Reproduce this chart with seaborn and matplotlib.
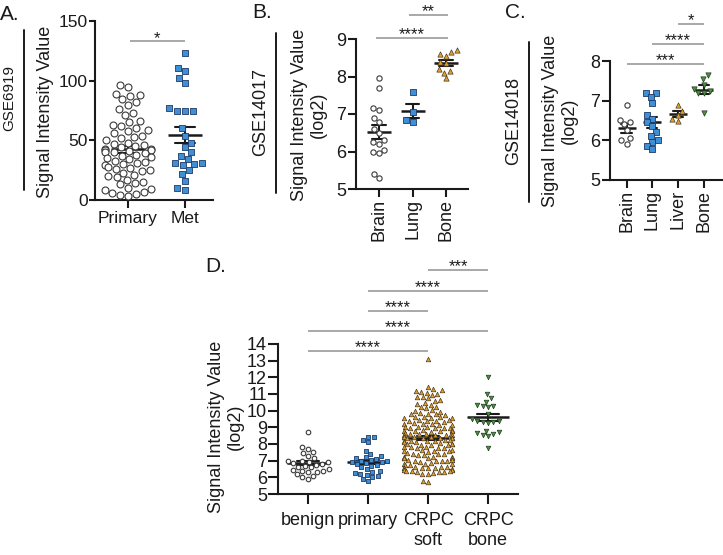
import numpy as np
import pandas as pd
import matplotlib
matplotlib.use("Agg")
import matplotlib.pyplot as plt
import seaborn as sns
from matplotlib.lines import Line2D

# ---------------- data ----------------
a_cats = ["Primary", "Met"]
a_primary = [96, 95, 89, 88, 87, 85, 82, 80, 76, 73, 71, 66, 65, 63, 62, 60, 59, 58, 56, 54,
             53, 52, 50, 48, 47, 46, 45, 44, 43, 43, 42, 42, 41, 40, 40, 39, 38, 37, 36, 35,
             34, 33, 32, 31, 30, 29, 28, 27, 26, 25, 24, 23, 21, 20, 19, 17, 15, 14, 13, 10,
             9, 8, 7, 6, 5, 4, 3]
a_met = [123, 111, 108, 102, 98, 77, 75, 75, 75, 60, 54, 48, 44, 40, 37, 34, 31, 31, 30, 29,
         25, 22, 16, 10, 8]

b_cats = ["Brain", "Lung", "Bone"]
b_brain = [7.95, 7.7, 7.15, 7.1, 6.9, 6.8, 6.6, 6.5, 6.3, 6.25, 6.2, 6.05, 6.0, 5.95, 5.4, 5.3]
b_lung = [7.6, 7.05, 6.85, 6.8]
b_bone = [8.7, 8.65, 8.6, 8.55, 8.4, 8.35, 8.2, 8.15, 8.1, 7.95]

c_cats = ["Brain", "Lung", "Liver", "Bone"]
c_brain = [6.88, 6.52, 6.45, 6.4, 6.25, 6.05, 6.0, 5.92]
c_lung = [7.2, 7.2, 7.1, 6.95, 6.65, 6.55, 6.45, 6.35, 6.2, 6.1, 6.0, 5.95, 5.85, 5.78]
c_liver = [6.9, 6.75, 6.65, 6.55, 6.5]
c_bone = [7.65, 7.55, 7.4, 7.3, 7.25, 7.2, 7.2, 6.7]

d_cats = ["benign", "primary", "CRPC\nsoft", "CRPC\nbone"]
d_benign = [8.75, 7.8, 7.7, 7.5, 7.45, 7.3, 7.15, 7.0, 7.0, 6.95, 6.9, 6.85, 6.8, 6.75, 6.7,
            6.65, 6.6, 6.5, 6.45, 6.4, 6.4, 6.35, 6.3, 6.2, 6.1, 6.0, 5.9]
d_primary = [8.45, 8.45, 8.25, 8.1, 7.6, 7.4, 7.3, 7.2, 7.15, 7.1, 7.05, 7.0, 7.0, 6.95, 6.9,
             6.85, 6.8, 6.75, 6.7, 6.6, 6.5, 6.4, 6.35, 6.25, 6.2, 6.15, 6.1, 6.0, 5.9, 5.8]
d_soft = [13.1,
          11.45, 11.28, 11.22, 11.18, 11.12, 11.08, 11.02, 10.97,
          10.85, 10.8, 10.75, 10.62, 10.58,
          10.45, 10.4, 10.36, 10.24, 10.2, 10.15, 10.05, 10.0, 9.95,
          9.85, 9.82, 9.8, 9.78, 9.75,
          9.65, 9.62, 9.6, 9.58, 9.56, 9.55,
          9.45, 9.42, 9.4, 9.38, 9.36, 9.35,
          9.25, 9.22, 9.2, 9.18, 9.16, 9.15,
          9.05, 9.03, 9.0, 8.98, 8.97, 8.96, 8.95,
          8.85, 8.83, 8.8, 8.78, 8.77, 8.76, 8.75,
          8.65, 8.63, 8.62, 8.6, 8.58, 8.57, 8.56, 8.55, 8.54,
          8.45, 8.43, 8.42, 8.4, 8.38, 8.37, 8.36, 8.35, 8.34,
          8.25, 8.23, 8.2, 8.18, 8.17, 8.16, 8.15, 8.14,
          8.05, 8.03, 8.0, 7.98, 7.97, 7.96, 7.95,
          7.85, 7.82, 7.8, 7.78, 7.76, 7.75,
          7.65, 7.62, 7.6, 7.58, 7.56, 7.55,
          7.45, 7.42, 7.4, 7.38, 7.36, 7.35,
          7.25, 7.22, 7.2, 7.18, 7.17, 7.16, 7.15,
          7.05, 7.03, 7.0, 6.98, 6.97, 6.96, 6.95,
          6.85, 6.82, 6.8, 6.78, 6.76, 6.75,
          6.65, 6.63, 6.6, 6.58, 6.57, 6.56, 6.55, 6.54,
          6.48, 6.45, 6.42, 6.4, 6.38, 6.36, 6.35, 6.34,
          6.3, 6.25, 6.22, 6.2,
          5.78, 5.72]
d_bone = [12.05, 11.0, 10.75, 10.55, 10.3, 10.25, 10.35, 10.3, 9.8, 9.5, 9.4, 9.4, 9.35, 9.3,
          9.25, 8.8, 8.7, 8.65, 8.6, 8.55, 8.5, 7.75]

# ---------------- style ----------------
sns.set_style("ticks")
plt.rcParams["font.family"] = ["Liberation Sans", "DejaVu Sans"]
INK = "#1a1a1a"
plt.rcParams["text.color"] = INK
plt.rcParams["axes.edgecolor"] = INK
plt.rcParams["xtick.color"] = INK
plt.rcParams["ytick.color"] = INK

OPEN = dict(marker="o", face="white", edge="#3a3a3a", lw=0.8)
BLUE = dict(marker="s", face="#3f8fd6", edge="#1d3a66", lw=0.6)
ORANGE = dict(marker="^", face="#e0a030", edge="#4a3a20", lw=0.5)
GREEN = dict(marker="v", face="#4e8f3e", edge="#1f3a1f", lw=0.5)

W, H = 723, 555
fig = plt.figure(figsize=(W / 100, H / 100), dpi=100)
fig.patch.set_facecolor("white")


def add_ax(l, r, t, b):
    return fig.add_axes([l / W, 1 - b / H, (r - l) / W, (b - t) / H])


def panel(ax, cats, groups, styles, size, mean_ms, cap):
    df = pd.DataFrame({
        "group": np.repeat(cats, [len(g) for g in groups]),
        "value": np.concatenate([np.asarray(g, float) for g in groups]),
    })
    for cat, st in zip(cats, styles):
        sub = df[df["group"] == cat]
        sns.swarmplot(data=sub, x="group", y="value", order=cats, ax=ax,
                      marker=st["marker"], color=st["face"], edgecolor=st["edge"],
                      linewidth=st["lw"], size=size, warn_thresh=1.0)
    sns.pointplot(data=df, x="group", y="value", order=cats, ax=ax,
                  errorbar="se", capsize=cap, linestyle="none", marker="_",
                  markersize=mean_ms, markeredgewidth=1.8, color=INK,
                  err_kws={"linewidth": 1.5})
    ax.set_xlabel("")
    ax.set_ylabel("")
    sns.despine(ax=ax)
    for s in ("left", "bottom"):
        ax.spines[s].set_linewidth(1.5)
    ax.tick_params(axis="both", width=1.5, colors=INK)


def sig(ax, x0, x1, y, txt):
    ax.plot([x0, x1], [y, y], color="#a8a8a8", lw=1.4, clip_on=False,
            solid_capstyle="butt")
    ax.annotate(txt, xy=((x0 + x1) / 2, y), xytext=(0, -1), textcoords="offset points",
                ha="center", va="baseline", fontsize=12, annotation_clip=False)


def vline(x, y0, y1):
    fig.add_artist(Line2D([x / W, x / W], [1 - y0 / H, 1 - y1 / H], color=INK, lw=1.4))


def ftext(x, y, s, size, **kw):
    fig.text(x / W, 1 - y / H, s, fontsize=size, **kw)


# ---------------- panel A ----------------
axA = add_ax(95, 213, 21, 200)
panel(axA, a_cats, [a_primary, a_met], [OPEN, BLUE], 5.0, 25, 0.35)
axA.set_xlim(-0.579, 1.49)
axA.set_ylim(0, 150)
axA.set_yticks([0, 50, 100, 150])
axA.tick_params(axis="y", length=4, pad=1, labelsize=12.5)
axA.tick_params(axis="x", length=6, pad=2, labelsize=12.5)
sig(axA, 0.03, 1.0, 133, "*")

# ---------------- panel B ----------------
axB = add_ax(356, 468, 39, 189)
panel(axB, b_cats, [b_brain, b_lung, b_bone], [OPEN, BLUE, ORANGE], 3.8, 17, 0.39)
axB.set_xlim(-0.687, 2.657)
axB.set_ylim(5, 9)
axB.set_yticks([5, 6, 7, 8, 9])
axB.tick_params(axis="y", length=6, pad=1, labelsize=13)
axB.tick_params(axis="x", length=6, pad=1, labelsize=13, labelrotation=90)
sig(axB, -0.1, 2.05, 9.03, "****")
sig(axB, 0.9, 2.05, 9.64, "**")

# ---------------- panel C ----------------
axC = add_ax(610, 722, 61, 180)
panel(axC, c_cats, [c_brain, c_lung, c_liver, c_bone], [OPEN, BLUE, ORANGE, GREEN],
      3.8, 13, 0.39)
axC.set_xlim(-0.64, 3.70)
axC.set_ylim(5, 8)
axC.set_yticks([5, 6, 7, 8])
axC.tick_params(axis="y", length=6, pad=1, labelsize=13)
axC.tick_params(axis="x", length=6, pad=1, labelsize=13, labelrotation=90)
sig(axC, 0.0, 3.0, 7.92, "***")
sig(axC, 1.0, 3.0, 8.43, "****")
sig(axC, 2.0, 3.0, 8.93, "*")

# ---------------- panel D ----------------
axD = add_ax(278, 518, 344, 494)
panel(axD, d_cats, [d_benign, d_primary, d_soft, d_bone], [OPEN, BLUE, ORANGE, GREEN],
      3.3, 30, 0.37)
axD.set_xlim(-0.5, 3.5)
axD.set_ylim(5, 14)
axD.set_yticks(range(5, 15))
axD.tick_params(axis="y", length=7, pad=1, labelsize=13)
axD.tick_params(axis="x", length=7, pad=6, labelsize=13)
sig(axD, 0.0, 2.0, 13.58, "****")
sig(axD, 0.0, 3.0, 14.78, "****")
sig(axD, 1.0, 2.0, 15.98, "****")
sig(axD, 1.0, 3.0, 17.18, "****")
sig(axD, 2.0, 3.0, 18.44, "***")

# ---------------- labels ----------------
ylab = "Signal Intensity Value"
ylab2 = "Signal Intensity Value\n(log2)"
ftext(0, 14, "A.", 15, ha="left", va="center")
ftext(252, 12, "B.", 15, ha="left", va="center")
ftext(505, 12, "C.", 15, ha="left", va="center")
ftext(205, 267, "D.", 15, ha="left", va="center")

ftext(9, 98, "GSE6919", 11, rotation=90, ha="center", va="center")
ftext(46, 112, ylab, 13, rotation=90, ha="center", va="center")
vline(24, 30, 190)

ftext(261, 112, "GSE14017", 13, rotation=90, ha="center", va="center")
ftext(309, 115, ylab2, 13, rotation=90, ha="center", va="center",
      multialignment="center", linespacing=1.15)
vline(276, 33, 193)

ftext(514, 121, "GSE14018", 13, rotation=90, ha="center", va="center")
ftext(560, 121, ylab2, 13, rotation=90, ha="center", va="center",
      multialignment="center", linespacing=1.15)
vline(529, 42, 202)

ftext(226, 427, ylab2, 13, rotation=90, ha="center", va="center",
      multialignment="center", linespacing=1.2)

fig.savefig("out.png", dpi=100, facecolor="white")
